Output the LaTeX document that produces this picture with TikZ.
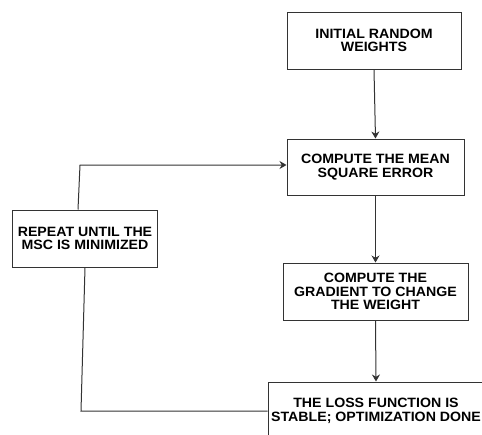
\documentclass[tikz,border=0pt]{standalone}
\usepackage{fontspec}
\setmainfont{Liberation Sans}[FakeStretch=1.05]
\usetikzlibrary{arrows.meta}
\begin{document}
\begin{tikzpicture}[x=1pt,y=-1pt,
  box/.style={draw=black!80,line width=1pt,fill=white,align=center,inner sep=0pt,
    font=\fontsize{13.5}{13.5}\selectfont\bfseries},
  conn/.style={draw=black!80,line width=1pt},
  arr/.style={conn,-{Stealth[length=7pt,width=8pt]}}]
\useasboundingbox (0,0) rectangle (482,434);
\clip (0,0) rectangle (482,434);
\node[box,minimum width=174pt,minimum height=57pt] (init) at (374,40.5) {INITIAL RANDOM\\WEIGHTS};
\node[box,minimum width=177pt,minimum height=56pt] (mse) at (375.5,167) {COMPUTE THE MEAN\\SQUARE ERROR};
\node[box,minimum width=185pt,minimum height=57pt] (grad) at (375.5,291.5) {COMPUTE THE\\GRADIENT TO CHANGE\\THE WEIGHT};
\node[box,minimum width=216pt,minimum height=58pt] (loss) at (376,411) {THE LOSS FUNCTION IS\\STABLE; OPTIMIZATION DONE};
\node[box,minimum width=145pt,minimum height=57pt] (rep) at (85,238.5) {REPEAT UNTIL THE\\MSC IS MINIMIZED};
\coordinate (c1) at (80,165);
\coordinate (c2) at (81,411);
\draw[arr] (init.south) -- (mse.north);
\draw[arr] (mse.south) -- (grad.north);
\draw[arr] (grad.south) -- (loss.north);
\draw[arr] ([xshift=-7pt]rep.north) -- (c1) -- (mse.west |- c1);
\draw[conn] (rep.south) -- (c2) -- (loss.west |- c2);
\end{tikzpicture}
\end{document}
